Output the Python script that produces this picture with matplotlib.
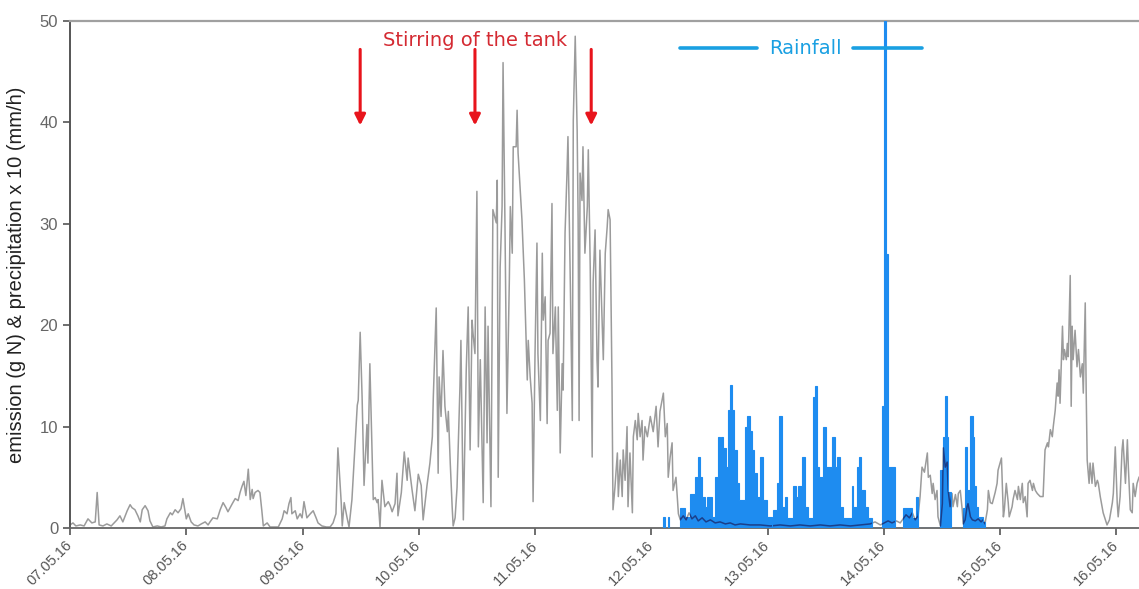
import numpy as np
import matplotlib
matplotlib.use("Agg")
import matplotlib.pyplot as plt

# Day labels on the time axis (one tick every 24 h, starting 07.05.16 00:00)
date_labels = ["07.05.16", "08.05.16", "09.05.16", "10.05.16", "11.05.16",
               "12.05.16", "13.05.16", "14.05.16", "15.05.16", "16.05.16"]

# Emission (g N): hours since 07.05.16 00:00 and measured value
emission_hours = [
    0, 0.6, 1.2, 2.1, 2.9, 3.7, 4.5, 5.2, 5.6, 6.0, 6.8, 7.6, 8.5, 9.1, 9.7, 10.3, 10.9,
    11.8, 12.4, 12.8, 13.4, 14.0, 14.5, 14.9, 15.5, 16.1, 16.5, 17.1, 18.0, 18.8, 19.6,
    20.0, 20.7, 21.1, 21.7, 22.3, 22.9, 23.3, 24.0, 24.4, 25.0, 25.6, 26.4, 27.1, 27.9,
    28.5, 28.9, 29.5, 30.4, 31.0, 31.6, 32.2, 32.6, 33.5, 34.1, 34.7, 35.1, 35.5, 35.9,
    36.3, 36.8, 37.2, 37.6, 37.8, 38.2, 38.8, 39.2, 39.6, 39.9, 40.7, 41.3, 42.1, 43.0,
    43.8, 44.2, 44.8, 45.2, 45.6, 45.8, 46.5, 46.9, 47.5, 47.9, 48.3, 48.9, 49.6, 50.2,
    50.8, 51.2, 52.0, 52.9, 53.7, 54.3, 54.9, 55.3, 56.0, 56.2, 56.6, 57.2, 57.6, 58.2,
    58.9, 59.3, 59.5, 59.9, 60.3, 60.7, 61.3, 61.5, 61.9, 62.6, 63.0, 63.4, 63.6, 64.0,
    64.4, 65.0, 65.7, 66.1, 66.5, 67.1, 67.5, 67.7, 68.4, 69.0, 69.6, 69.8, 70.6, 71.2,
    71.9, 72.5, 72.9, 73.7, 74.3, 74.8, 75.0, 75.6, 76.0, 76.2, 76.6, 77.0, 77.4, 77.9,
    78.1, 78.5, 78.9, 79.1, 79.5, 79.9, 80.5, 80.7, 81.2, 81.8, 82.2, 82.6, 83.0, 83.2,
    83.6, 84.0, 84.3, 84.7, 85.3, 85.7, 86.1, 86.3, 86.9, 87.3, 88.0, 88.2, 88.4, 88.8,
    89.2, 89.4, 89.8, 90.2, 90.7, 90.9, 91.3, 91.5, 92.1, 92.3, 92.5, 92.9, 93.3, 93.8,
    94.4, 94.6, 95.0, 95.4, 95.6, 96.0, 96.4, 96.6, 97.1, 97.5, 97.7, 98.1, 98.5, 98.7,
    99.1, 99.5, 99.7, 100.2, 100.6, 100.8, 101.2, 101.6, 101.8, 102.2, 102.6, 102.8,
    103.3, 103.7, 103.9, 104.3, 104.7, 104.9, 105.1, 105.3, 105.7, 105.9, 106.3, 106.8,
    107.0, 107.4, 107.8, 108.0, 108.4, 108.8, 109.0, 109.4, 109.9, 110.1, 110.5, 110.9,
    111.1, 111.5, 111.9, 112.1, 112.5, 113.0, 113.2, 113.6, 114.0, 114.2, 114.6, 115.0,
    115.2, 115.6, 116.1, 116.3, 116.7, 117.1, 117.3, 117.7, 118.1, 118.3, 118.7, 119.2,
    119.8, 120.4, 121.0, 121.4, 121.8, 122.5, 122.9, 123.3, 123.5, 123.9, 124.3, 124.5,
    125.1, 125.6, 126.0, 126.6, 127.2, 127.8, 128.4, 129.1, 129.7, 130.5, 131.3, 132.2,
    133.2, 134.2, 135.3, 136.3, 137.3, 138.4, 140.4, 142.5, 144.6, 146.6, 148.7, 150.7,
    152.8, 154.9, 156.9, 159.0, 161.1, 163.1, 165.2, 166.2, 167.3, 168.1, 168.9, 169.7,
    170.6, 171.4, 172.0, 172.6, 173.3, 173.9, 174.5, 175.1, 175.5, 175.9, 176.4, 177.0,
    177.2, 177.6, 178.0, 178.2, 178.6, 179.0, 179.2, 179.7, 180.1, 180.3, 180.7, 181.1,
    181.3, 181.7, 182.1, 182.3, 182.8, 183.2, 183.4, 183.8, 184.2, 184.4, 184.8, 185.2,
    185.4, 185.9, 186.3, 186.9, 187.5, 188.1, 188.5, 188.9, 189.4, 189.6, 190.0, 190.4,
    191.0, 191.4, 191.6, 192.3, 192.7, 192.9, 193.3, 193.7, 193.9, 194.5, 194.7, 195.1,
    195.6, 195.8, 196.2, 196.6, 196.8, 197.2, 197.6, 197.8, 198.2, 198.7, 198.9, 199.3,
    199.7, 200.3, 200.9, 201.3, 201.8, 202.0, 202.4, 202.8, 203.0, 203.4, 203.8, 204.0,
    204.2, 204.4, 204.9, 205.1, 205.3, 205.7, 205.9, 206.1, 206.5, 206.7, 206.9, 207.1,
    207.5, 207.9, 208.2, 208.6, 209.0, 209.2, 209.6, 209.8, 210.0, 210.4, 210.6, 211.0,
    211.2, 211.7, 212.1, 212.3, 212.7, 213.3, 214.1, 214.6, 215.2, 215.4, 215.8, 216.2,
    216.4, 216.8, 217.2, 217.4, 217.9, 218.3, 218.5, 218.9, 219.3, 219.5, 219.9, 220.3,
    220.7,
]
emission_values = [
    0.3, 0.5, 0.2, 0.3, 0.2, 0.9, 0.5, 0.6, 3.5, 0.3, 0.2, 0.4, 0.2, 0.5, 0.8, 1.2, 0.6,
    1.7, 2.3, 2.0, 1.8, 1.2, 0.6, 1.8, 2.2, 1.7, 0.7, 0.1, 0.2, 0.1, 0.2,
    0.9, 1.5, 1.3, 1.8, 1.5, 1.9, 2.9, 0.9, 1.4, 0.6, 0.3, 0.2, 0.4, 0.6,
    0.3, 0.6, 1.0, 0.9, 1.8, 2.5, 2.0, 1.6, 2.4, 2.9, 2.7, 3.5, 4.1, 4.6,
    3.2, 5.8, 2.8, 3.8, 2.9, 3.5, 3.7, 3.5, 1.7, 0.2, 0.5, 0.1, 0.1, 0.1,
    0.9, 1.7, 1.4, 2.4, 3.0, 1.4, 1.7, 0.9, 1.4, 1.0, 2.6, 1.0, 1.4, 1.7,
    1.0, 0.5, 0.2, 0.1, 0.1, 0.5, 1.4, 7.9, 2.4, 0.2, 2.5, 1.0, 0.1, 2.8,
    8.6, 12.1, 12.6, 19.3, 12.9, 4.2, 10.2, 6.4, 16.2, 2.8, 3.0, 2.5, 2.8, 0.1,
    4.7, 2.1, 2.6, 2.2, 1.6, 2.4, 5.4, 1.2, 3.5, 7.5, 4.7, 6.9, 3.8, 1.7,
    5.3, 4.2, 0.8, 4.2, 6.4, 9.0, 12.9, 21.7, 5.4, 14.9, 11.0, 17.5, 12.0, 9.5,
    11.5, 6.4, 2.0, 0.2, 1.0, 4.0, 13.9, 18.5, 0.8, 15.6, 21.8, 7.7, 20.5, 19.2,
    17.2, 33.2, 8.0, 16.6, 2.5, 21.8, 8.4, 19.9, 2.1, 31.4, 30.1, 34.3, 5.0, 25.7,
    31.7, 45.9, 29.7, 11.3, 24.5, 31.7, 27.1, 37.6, 37.6, 41.2, 37.0, 33.7, 30.4, 24.5,
    14.6, 18.5, 14.9, 12.3, 2.6, 17.2, 28.1, 17.2, 10.6, 27.1, 20.5, 22.8, 10.3, 18.5,
    19.2, 32.0, 17.2, 21.8, 11.6, 21.8, 7.4, 16.2, 13.6, 29.1, 35.0, 38.6,
    23.8, 10.6, 40.2, 48.5, 39.2, 30.4, 10.6, 35.0, 32.3, 37.6, 27.1, 31.7,
    37.3, 25.7, 7.0, 24.2, 29.4, 16.6, 13.9, 27.4, 19.5, 16.6, 27.1, 29.7,
    31.4, 30.4, 13.9, 1.8, 4.0, 7.4, 3.1, 6.7, 3.1, 7.7, 4.7, 10.0,
    2.1, 7.4, 1.5, 9.0, 10.6, 8.7, 11.3, 9.0, 10.6, 6.7, 10.0, 9.0,
    11.0, 9.5, 12.0, 8.0, 11.5, 13.3, 9.0, 10.3, 5.0, 7.0, 8.4, 3.7,
    5.0, 1.4, 0.8, 1.2, 0.8, 1.5, 0.9, 1.2, 0.7, 1.0, 0.6, 0.8,
    0.5, 0.6, 0.4, 0.5, 0.3, 0.4, 0.3, 0.3, 0.2, 0.3, 0.2, 0.3,
    0.2, 0.3, 0.2, 0.3, 0.2, 0.3, 0.4, 0.6, 0.3, 0.5, 0.7, 0.5,
    0.7, 0.5, 0.9, 1.3, 1.0, 1.5, 0.8, 1.2, 3.1, 6.0, 5.5, 7.4,
    5.0, 5.2, 3.4, 4.4, 2.8, 3.7, 1.1, 0.2, 2.4, 7.9, 6.0, 6.5,
    3.7, 2.1, 3.4, 2.1, 3.3, 2.1, 3.4, 3.7, 1.8, 0.4, 0.8, 2.1,
    2.4, 1.1, 0.8, 0.7, 0.9, 0.6, 0.8, 0.4, 1.8, 3.7, 2.5, 2.4,
    3.5, 4.4, 5.7, 6.9, 1.1, 1.8, 4.4, 2.5, 1.1, 2.1, 2.8, 3.7,
    2.8, 4.1, 2.8, 4.4, 2.5, 3.1, 1.1, 4.4, 4.7, 3.7, 4.4, 3.7,
    3.4, 3.1, 3.1, 7.7, 8.4, 8.0, 9.7, 9.0, 10.0, 11.6, 14.3, 13.0,
    15.6, 12.3, 19.9, 16.6, 17.6, 16.6, 18.2, 16.9, 24.9, 12.0, 19.9, 16.6,
    19.5, 15.9, 17.6, 14.9, 16.2, 13.3, 22.2, 13.3, 6.7, 4.4, 6.4, 4.4,
    6.4, 4.1, 4.7, 4.4, 3.1, 1.5, 0.3, 0.8, 2.5, 3.4, 8.0, 2.5,
    1.1, 3.1, 7.7, 8.7, 4.4, 8.7, 6.0, 1.8, 1.5, 4.4, 3.1, 4.4,
    5.0,
]

# Precipitation x 10 (mm/h): interval edges in hours and value per interval
rain_edges = [
    122.5, 122.8, 123.4, 123.7, 126.0, 127.0, 128.0, 129.1, 129.7, 130.1, 130.5, 131.1,
    131.5, 132.6, 133.2, 133.8, 134.2, 134.5, 134.8, 135.5, 135.9, 136.3, 136.7, 137.1,
    137.7, 138.2, 139.4, 139.8, 140.4, 140.8, 141.2, 141.9, 142.5, 143.1, 143.9, 145.0,
    145.2, 146.0, 146.4, 147.0, 147.6, 148.1, 149.3, 149.9, 150.3, 151.2, 151.8, 152.4,
    153.4, 153.8, 154.3, 154.7, 155.5, 156.1, 157.4, 158.0, 158.4, 159.0, 159.6, 161.5,
    161.7, 162.5, 162.9, 163.3, 164.2, 164.8, 165.6, 167.7, 168.15, 168.55, 168.8, 170.4,
    172.0, 173.9, 174.7, 175.1, 179.7, 180.3, 180.7, 181.1, 181.3, 181.9, 184.4, 184.8,
    185.2, 185.9, 186.5, 186.7, 187.1, 187.5, 188.5, 188.9,
]
rain_values = [
    1.1, 0, 1.1, 0, 2.0, 1.1, 3.4, 5.0, 7.0, 5.0, 3.1, 2.1,
    3.1, 1.1, 5.0, 9.0, 8.0, 9.0, 7.9, 6.0, 11.6, 14.1, 11.6, 7.7,
    4.4, 2.8, 10.0, 11.0, 9.6, 7.7, 5.4, 3.1, 7.0, 2.8, 1.1, 0,
    1.8, 4.4, 11.0, 2.1, 3.1, 1.0, 4.1, 3.1, 4.1, 7.0, 2.1, 1.0,
    12.9, 14.0, 6.0, 5.0, 10.0, 6.0, 9.0, 6.0, 7.0, 2.1, 1.0, 4.1,
    2.1, 6.0, 7.0, 3.7, 2.1, 1.0, 0, 12.0, 55.0, 27.0, 6.0, 0,
    2.0, 1.0, 3.1, 0, 5.7, 9.0, 13.0, 9.0, 3.5, 0, 2.0, 8.0,
    3.7, 11.0, 9.0, 4.1, 2.1, 1.1, 0.6,
]

# Times when the tank was stirred (hours)
stirring_hours = [59.9, 83.6, 107.6]

GRAY = "#9b9b9b"
RAIN = "#1e8cf0"
RAIN_TEXT = "#1aa0e2"
RED = "#e8141c"

fig = plt.figure(figsize=(11.39, 5.89), dpi=100)
ax = fig.add_axes([0.0615, 0.1036, 0.9385, 0.8607])

ax.plot(emission_hours, emission_values, color=GRAY, lw=1.1, zorder=2)
rain_patch = ax.stairs(rain_values, rain_edges, fill=True, facecolor=RAIN,
                       edgecolor=RAIN, lw=0.8, zorder=3)
# emission trace seen through the rain columns
under, = ax.plot(emission_hours, emission_values, color="#1b3f8a", lw=1.1, zorder=4)
under.set_clip_path(rain_patch)

ax.set_xlim(0, 220.7)
ax.set_ylim(0, 50)
ax.set_xticks(np.arange(len(date_labels)) * 24)
ax.set_xticklabels(date_labels, rotation=45, ha="right", va="center",
                   rotation_mode="anchor", fontsize=10.5, color="#555555",
                   family="Liberation Sans")
ax.set_yticks(np.arange(0, 51, 10))
ax.set_yticklabels([str(v) for v in range(0, 51, 10)], fontsize=12,
                   color="#666666", family="Liberation Sans")
ax.tick_params(axis="both", direction="out", length=5, width=1.2, colors="#555555")
ax.tick_params(axis="x", pad=6, labelcolor="#555555")
ax.tick_params(axis="y", labelcolor="#666666")

ax.spines["left"].set_color("#555555")
ax.spines["left"].set_linewidth(1.4)
ax.spines["bottom"].set_color("#666666")
ax.spines["bottom"].set_linewidth(1.3)
ax.spines["top"].set_color("#a0a0a0")
ax.spines["top"].set_linewidth(1.6)
ax.spines["right"].set_visible(False)

ax.set_ylabel("emission (g N) & precipitation x 10 (mm/h)", fontsize=14.5,
              family="Liberation Sans", color="#222222", labelpad=10)

# Stirring events
for h in stirring_hours:
    ax.annotate("", xy=(h, 39.7), xytext=(h, 47.2),
                arrowprops=dict(arrowstyle="-|>", color=RED, lw=2.2,
                                mutation_scale=16, shrinkA=0, shrinkB=0),
                zorder=6)
ax.text(stirring_hours[1], 48.1, "Stirring of the tank", color="#d42a32",
        fontsize=14, ha="center", va="center", family="DejaVu Sans", zorder=6)

# Rainfall label with line segments either side
ax.plot([126.0, 141.9], [47.3, 47.3], color=RAIN_TEXT, lw=2.6, solid_capstyle="round", zorder=6)
ax.plot([161.7, 175.9], [47.3, 47.3], color=RAIN_TEXT, lw=2.6, solid_capstyle="round", zorder=6)
ax.text(151.8, 47.3, "Rainfall", color=RAIN_TEXT, fontsize=14, ha="center",
        va="center", family="DejaVu Sans", zorder=6)

fig.savefig("out.png", dpi=100)
